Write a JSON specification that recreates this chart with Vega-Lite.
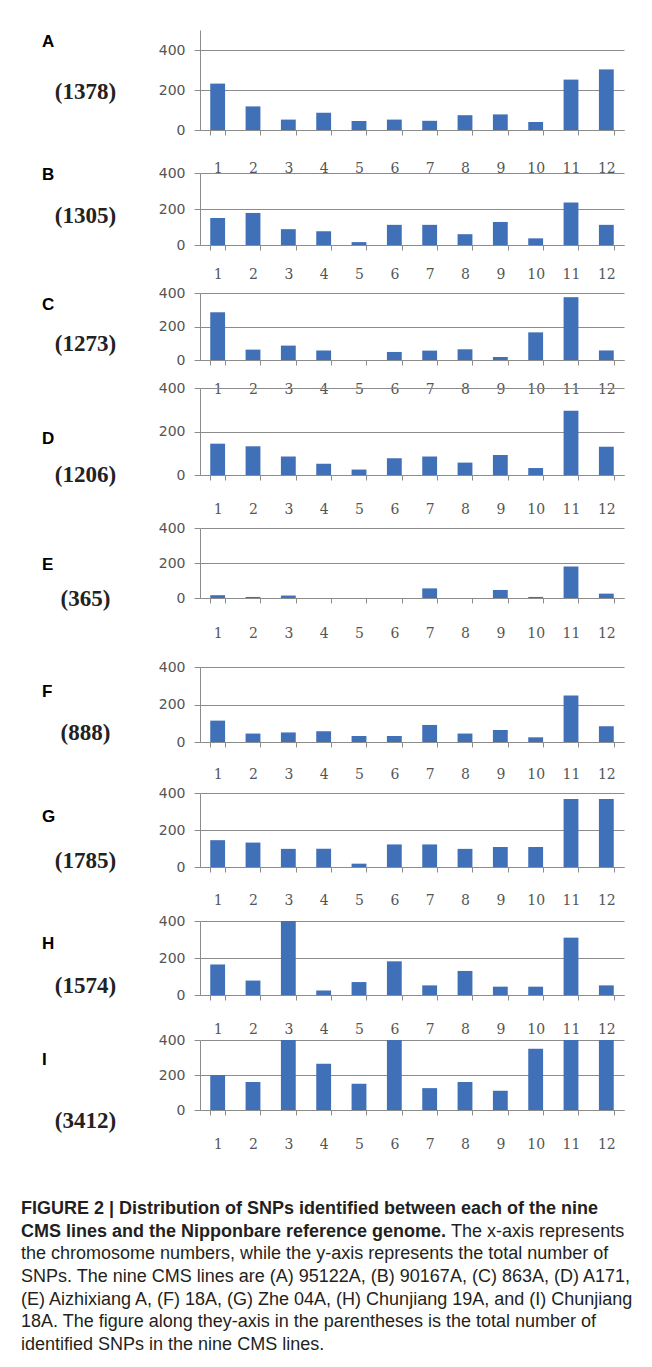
{
  "$schema": "https://vega.github.io/schema/vega-lite/v6.json",
  "background": "white",
  "padding": {"left": 21, "top": 30, "right": 0, "bottom": 0},
  "bounds": "flush",
  "spacing": 0,
  "datasets": {
    "snp": [
      {"line": "A", "chr": 1, "snps": 232}, {"line": "A", "chr": 2, "snps": 118}, {"line": "A", "chr": 3, "snps": 52}, {"line": "A", "chr": 4, "snps": 86}, {"line": "A", "chr": 5, "snps": 45}, {"line": "A", "chr": 6, "snps": 52}, {"line": "A", "chr": 7, "snps": 46}, {"line": "A", "chr": 8, "snps": 74}, {"line": "A", "chr": 9, "snps": 78}, {"line": "A", "chr": 10, "snps": 40}, {"line": "A", "chr": 11, "snps": 252}, {"line": "A", "chr": 12, "snps": 303},
      {"line": "B", "chr": 1, "snps": 150}, {"line": "B", "chr": 2, "snps": 178}, {"line": "B", "chr": 3, "snps": 88}, {"line": "B", "chr": 4, "snps": 76}, {"line": "B", "chr": 5, "snps": 16}, {"line": "B", "chr": 6, "snps": 112}, {"line": "B", "chr": 7, "snps": 112}, {"line": "B", "chr": 8, "snps": 60}, {"line": "B", "chr": 9, "snps": 128}, {"line": "B", "chr": 10, "snps": 37}, {"line": "B", "chr": 11, "snps": 236}, {"line": "B", "chr": 12, "snps": 112},
      {"line": "C", "chr": 1, "snps": 285}, {"line": "C", "chr": 2, "snps": 62}, {"line": "C", "chr": 3, "snps": 86}, {"line": "C", "chr": 4, "snps": 57}, {"line": "C", "chr": 5, "snps": 0}, {"line": "C", "chr": 6, "snps": 48}, {"line": "C", "chr": 7, "snps": 56}, {"line": "C", "chr": 8, "snps": 64}, {"line": "C", "chr": 9, "snps": 18}, {"line": "C", "chr": 10, "snps": 165}, {"line": "C", "chr": 11, "snps": 375}, {"line": "C", "chr": 12, "snps": 57},
      {"line": "D", "chr": 1, "snps": 144}, {"line": "D", "chr": 2, "snps": 132}, {"line": "D", "chr": 3, "snps": 85}, {"line": "D", "chr": 4, "snps": 52}, {"line": "D", "chr": 5, "snps": 25}, {"line": "D", "chr": 6, "snps": 77}, {"line": "D", "chr": 7, "snps": 85}, {"line": "D", "chr": 8, "snps": 57}, {"line": "D", "chr": 9, "snps": 92}, {"line": "D", "chr": 10, "snps": 32}, {"line": "D", "chr": 11, "snps": 295}, {"line": "D", "chr": 12, "snps": 130},
      {"line": "E", "chr": 1, "snps": 16}, {"line": "E", "chr": 2, "snps": 6}, {"line": "E", "chr": 3, "snps": 14}, {"line": "E", "chr": 4, "snps": 0}, {"line": "E", "chr": 5, "snps": 0}, {"line": "E", "chr": 6, "snps": 0}, {"line": "E", "chr": 7, "snps": 55}, {"line": "E", "chr": 8, "snps": 0}, {"line": "E", "chr": 9, "snps": 46}, {"line": "E", "chr": 10, "snps": 6}, {"line": "E", "chr": 11, "snps": 180}, {"line": "E", "chr": 12, "snps": 25},
      {"line": "F", "chr": 1, "snps": 114}, {"line": "F", "chr": 2, "snps": 45}, {"line": "F", "chr": 3, "snps": 51}, {"line": "F", "chr": 4, "snps": 57}, {"line": "F", "chr": 5, "snps": 32}, {"line": "F", "chr": 6, "snps": 32}, {"line": "F", "chr": 7, "snps": 91}, {"line": "F", "chr": 8, "snps": 45}, {"line": "F", "chr": 9, "snps": 64}, {"line": "F", "chr": 10, "snps": 25}, {"line": "F", "chr": 11, "snps": 248}, {"line": "F", "chr": 12, "snps": 84},
      {"line": "G", "chr": 1, "snps": 145}, {"line": "G", "chr": 2, "snps": 132}, {"line": "G", "chr": 3, "snps": 98}, {"line": "G", "chr": 4, "snps": 98}, {"line": "G", "chr": 5, "snps": 18}, {"line": "G", "chr": 6, "snps": 122}, {"line": "G", "chr": 7, "snps": 122}, {"line": "G", "chr": 8, "snps": 98}, {"line": "G", "chr": 9, "snps": 108}, {"line": "G", "chr": 10, "snps": 108}, {"line": "G", "chr": 11, "snps": 368}, {"line": "G", "chr": 12, "snps": 368},
      {"line": "H", "chr": 1, "snps": 165}, {"line": "H", "chr": 2, "snps": 78}, {"line": "H", "chr": 3, "snps": 420}, {"line": "H", "chr": 4, "snps": 25}, {"line": "H", "chr": 5, "snps": 70}, {"line": "H", "chr": 6, "snps": 182}, {"line": "H", "chr": 7, "snps": 52}, {"line": "H", "chr": 8, "snps": 130}, {"line": "H", "chr": 9, "snps": 45}, {"line": "H", "chr": 10, "snps": 45}, {"line": "H", "chr": 11, "snps": 310}, {"line": "H", "chr": 12, "snps": 52},
      {"line": "I", "chr": 1, "snps": 200}, {"line": "I", "chr": 2, "snps": 160}, {"line": "I", "chr": 3, "snps": 450}, {"line": "I", "chr": 4, "snps": 265}, {"line": "I", "chr": 5, "snps": 150}, {"line": "I", "chr": 6, "snps": 470}, {"line": "I", "chr": 7, "snps": 125}, {"line": "I", "chr": 8, "snps": 160}, {"line": "I", "chr": 9, "snps": 110}, {"line": "I", "chr": 10, "snps": 350}, {"line": "I", "chr": 11, "snps": 500}, {"line": "I", "chr": 12, "snps": 472}
    ]
  },
  "title": {
    "text": ["FIGURE 2 | Distribution of SNPs identified between each of the nine", "CMS lines and the Nipponbare reference genome."],
    "subtitle": ["\u200b\u00a0\u00a0\u00a0\u00a0\u00a0\u00a0\u00a0\u00a0\u00a0\u00a0\u00a0\u00a0\u00a0\u00a0\u00a0\u00a0\u00a0\u00a0\u00a0\u00a0\u00a0\u00a0\u00a0\u00a0\u00a0\u00a0\u00a0\u00a0\u00a0\u00a0\u00a0\u00a0\u00a0\u00a0\u00a0\u00a0\u00a0\u00a0\u00a0\u00a0\u00a0\u00a0\u00a0\u00a0\u00a0\u00a0\u00a0\u00a0\u00a0\u00a0\u00a0\u00a0\u00a0\u00a0\u00a0\u00a0\u00a0\u00a0\u00a0\u00a0\u00a0\u00a0\u00a0\u00a0\u00a0\u00a0\u00a0\u00a0\u00a0\u00a0\u00a0\u00a0\u00a0\u00a0\u00a0\u00a0\u00a0\u00a0\u00a0\u00a0\u00a0\u00a0\u00a0\u00a0\u00a0\u00a0The x-axis represents", "the chromosome numbers, while the y-axis represents the total number of", "SNPs. The nine CMS lines are (A) 95122A, (B) 90167A, (C) 863A, (D) A171,", "(E) Aizhixiang A, (F) 18A, (G) Zhe 04A, (H) Chunjiang 19A, and (I) Chunjiang", "18A. The figure along they-axis in the parentheses is the total number of", "identified SNPs in the nine CMS lines."],
    "orient": "bottom",
    "anchor": "start",
    "frame": "bounds",
    "align": "left",
    "baseline": "top",
    "dx": -21,
    "dy": 0,
    "offset": 49,
    "font": "Liberation Sans",
    "fontSize": 18,
    "fontWeight": "bold",
    "color": "#231f20",
    "lineHeight": 22.7,
    "subtitleFont": "Liberation Sans",
    "subtitleFontSize": 18,
    "subtitleFontWeight": "normal",
    "subtitleColor": "#231f20",
    "subtitleLineHeight": 22.7,
    "subtitlePadding": -18
  },
  "vconcat": [
    {
      "width": 424, "height": 100,
      "data": {"name": "snp"},
      "transform": [{"filter": "datum.line === 'A'"}],
      "title": {"text": "A", "dy": 25},
      "mark": {"type": "bar", "color": "#4070b8"},
      "encoding": {
        "x": {"field": "chr", "type": "ordinal", "scale": {"paddingInner": 0.58, "paddingOuter": 0.29}, "axis": {"labelPadding": 26}},
        "y": {"field": "snps", "type": "quantitative", "scale": {"domain": [0, 500], "clamp": true}, "axis": {"values": [0, 200, 400], "title": "(1378)", "titleY": 61}}
      }
    },
    {
      "width": 424, "height": 115,
      "data": {"name": "snp"},
      "transform": [{"filter": "datum.line === 'B'"}],
      "title": {"text": "B", "dy": 58},
      "mark": {"type": "bar", "color": "#4070b8"},
      "encoding": {
        "x": {"field": "chr", "type": "ordinal", "scale": {"paddingInner": 0.58, "paddingOuter": 0.29}, "axis": {"labelPadding": 17}},
        "y": {"field": "snps", "type": "quantitative", "scale": {"domain": [0, 400], "range": [115, 43], "clamp": true}, "axis": {"values": [0, 200, 400], "title": "(1305)", "titleY": 85}}
      }
    },
    {
      "width": 424, "height": 115,
      "data": {"name": "snp"},
      "transform": [{"filter": "datum.line === 'C'"}],
      "title": {"text": "C", "dy": 73},
      "mark": {"type": "bar", "color": "#4070b8"},
      "encoding": {
        "x": {"field": "chr", "type": "ordinal", "scale": {"paddingInner": 0.58, "paddingOuter": 0.29}, "axis": {"labelPadding": 17}},
        "y": {"field": "snps", "type": "quantitative", "scale": {"domain": [0, 400], "range": [115, 48], "clamp": true}, "axis": {"values": [0, 200, 400], "title": "(1273)", "titleY": 98}}
      }
    },
    {
      "width": 424, "height": 115,
      "data": {"name": "snp"},
      "transform": [{"filter": "datum.line === 'D'"}],
      "title": {"text": "D", "dy": 92},
      "mark": {"type": "bar", "color": "#4070b8"},
      "encoding": {
        "x": {"field": "chr", "type": "ordinal", "scale": {"paddingInner": 0.58, "paddingOuter": 0.29}, "axis": {"labelPadding": 22}},
        "y": {"field": "snps", "type": "quantitative", "scale": {"domain": [0, 400], "range": [115, 28], "clamp": true}, "axis": {"values": [0, 200, 400], "title": "(1206)", "titleY": 114}}
      }
    },
    {
      "width": 424, "height": 123,
      "data": {"name": "snp"},
      "transform": [{"filter": "datum.line === 'E'"}],
      "title": {"text": "E", "dy": 103},
      "mark": {"type": "bar", "color": "#4070b8"},
      "encoding": {
        "x": {"field": "chr", "type": "ordinal", "scale": {"paddingInner": 0.58, "paddingOuter": 0.29}, "axis": {"labelPadding": 23}},
        "y": {"field": "snps", "type": "quantitative", "scale": {"domain": [0, 400], "range": [123, 53], "clamp": true}, "axis": {"values": [0, 200, 400], "title": "(365)", "titleY": 123}}
      }
    },
    {
      "width": 424, "height": 144,
      "data": {"name": "snp"},
      "transform": [{"filter": "datum.line === 'F'"}],
      "title": {"text": "F", "dy": 107},
      "mark": {"type": "bar", "color": "#4070b8"},
      "encoding": {
        "x": {"field": "chr", "type": "ordinal", "scale": {"paddingInner": 0.58, "paddingOuter": 0.29}, "axis": {"labelPadding": 20}},
        "y": {"field": "snps", "type": "quantitative", "scale": {"domain": [0, 400], "range": [144, 69], "clamp": true}, "axis": {"values": [0, 200, 400], "title": "(888)", "titleY": 134}}
      }
    },
    {
      "width": 424, "height": 125,
      "data": {"name": "snp"},
      "transform": [{"filter": "datum.line === 'G'"}],
      "title": {"text": "G", "dy": 88},
      "mark": {"type": "bar", "color": "#4070b8"},
      "encoding": {
        "x": {"field": "chr", "type": "ordinal", "scale": {"paddingInner": 0.58, "paddingOuter": 0.29}, "axis": {"labelPadding": 21}},
        "y": {"field": "snps", "type": "quantitative", "scale": {"domain": [0, 400], "range": [125, 51], "clamp": true}, "axis": {"values": [0, 200, 400], "title": "(1785)", "titleY": 118}}
      }
    },
    {
      "width": 424, "height": 128,
      "data": {"name": "snp"},
      "transform": [{"filter": "datum.line === 'H'"}],
      "title": {"text": "H", "dy": 90},
      "mark": {"type": "bar", "color": "#4070b8"},
      "encoding": {
        "x": {"field": "chr", "type": "ordinal", "scale": {"paddingInner": 0.58, "paddingOuter": 0.29}, "axis": {"labelPadding": 22}},
        "y": {"field": "snps", "type": "quantitative", "scale": {"domain": [0, 400], "range": [128, 54], "clamp": true}, "axis": {"values": [0, 200, 400], "title": "(1574)", "titleY": 118}}
      }
    },
    {
      "width": 424, "height": 115,
      "data": {"name": "snp"},
      "transform": [{"filter": "datum.line === 'I'"}],
      "title": {"text": "I", "dy": 78},
      "mark": {"type": "bar", "color": "#4070b8"},
      "encoding": {
        "x": {"field": "chr", "type": "ordinal", "scale": {"paddingInner": 0.58, "paddingOuter": 0.29}, "axis": {"labelPadding": 22}},
        "y": {"field": "snps", "type": "quantitative", "scale": {"domain": [0, 400], "range": [115, 45], "clamp": true}, "axis": {"values": [0, 200, 400], "title": "(3412)", "titleY": 125}}
      }
    }
  ],
  "config": {
    "view": {"stroke": null},
    "title": {"anchor": "start", "frame": "group", "orient": "top", "offset": 0, "dx": -158, "baseline": "middle", "align": "left", "font": "Liberation Sans", "fontSize": 17, "fontWeight": "bold", "color": "#000000"},
    "axisX": {"title": null, "labelAngle": 0, "labelFont": "DejaVu Serif", "labelFontSize": 14, "labelColor": "#555555", "tickBand": "extent", "tickSize": 5, "tickColor": "#8c8c8c", "domainColor": "#8c8c8c", "grid": false},
    "axisY": {"grid": true, "gridColor": "#8c8c8c", "gridWidth": 1.2, "domainColor": "#8c8c8c", "tickColor": "#8c8c8c", "tickSize": 6, "labelFont": "DejaVu Sans", "labelFontSize": 14, "labelColor": "#555555", "labelPadding": 9, "titleAngle": 0, "titleX": -115, "titleAlign": "center", "titleBaseline": "middle", "titleFont": "Liberation Serif", "titleFontSize": 23, "titleFontWeight": "bold", "titleColor": "#222222"}
  }
}
